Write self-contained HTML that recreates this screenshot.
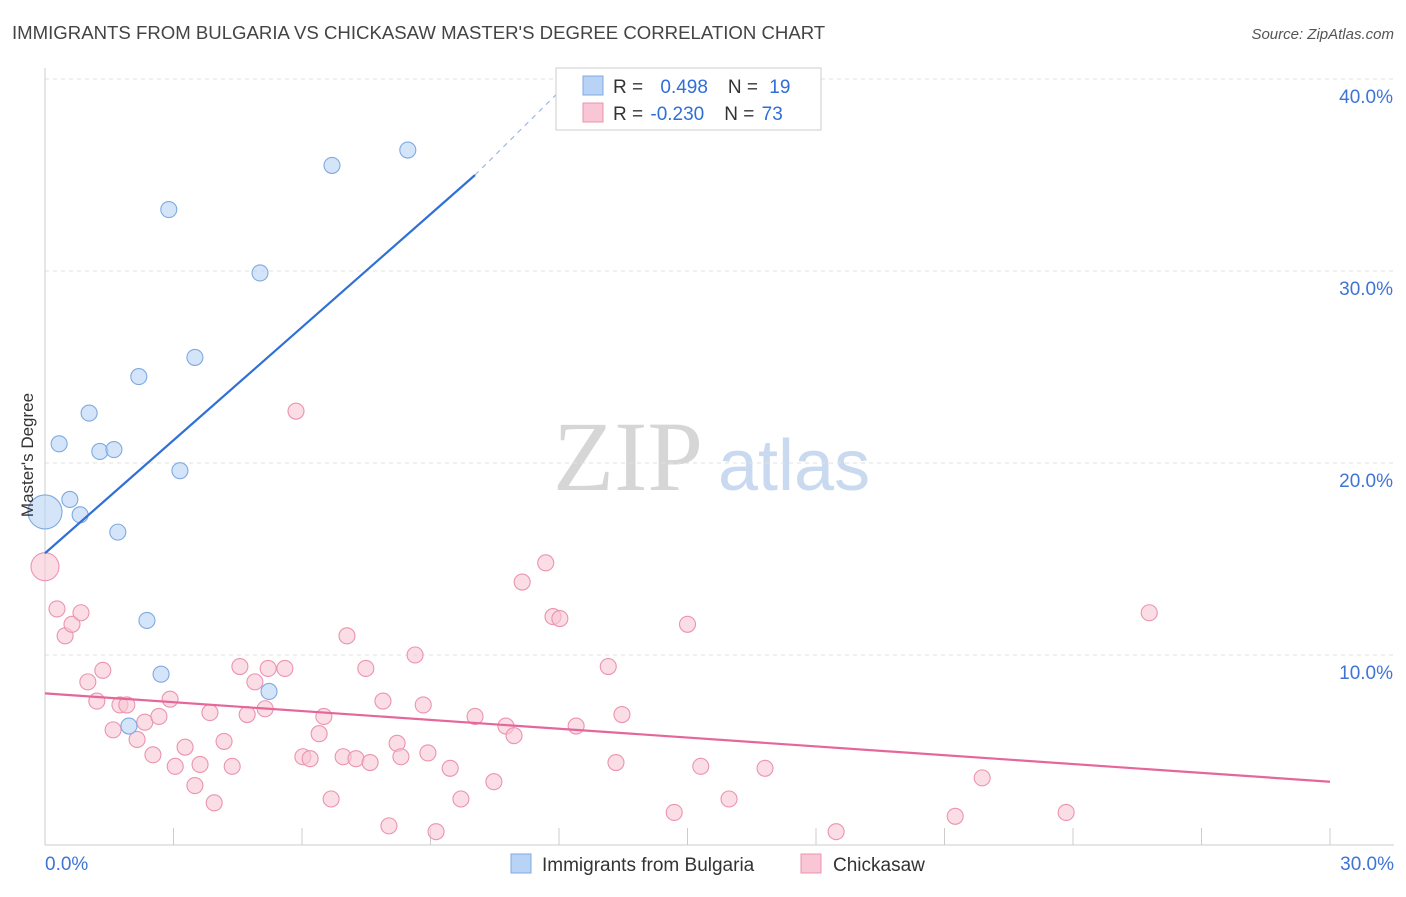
<!DOCTYPE html>
<html><head><meta charset="utf-8"><style>
body{margin:0;background:#fff;font-family:"Liberation Sans",sans-serif;}
svg text{font-family:"Liberation Sans",sans-serif;}
</style></head><body>
<svg id="chart" width="1406" height="892" xmlns="http://www.w3.org/2000/svg">
<text x="12" y="39" font-size="18.6" fill="#444">IMMIGRANTS FROM BULGARIA VS CHICKASAW MASTER'S DEGREE CORRELATION CHART</text>
<text x="1394" y="39" font-size="15" fill="#555" text-anchor="end" font-style="italic">Source: ZipAtlas.com</text>
<g>
<text x="553" y="490" font-size="100" fill="#d6d6d6" style="font-family:'Liberation Serif',serif">ZIP</text>
<text x="718" y="490" font-size="72" fill="#c9d9f0">atlas</text>
</g>
<g id="grid"></g>
<g id="axes"></g>
<g id="marks"></g>
<text transform="translate(33,455) rotate(-90)" font-size="17" fill="#333" text-anchor="middle">Master's Degree</text>
<g>
<rect x="556" y="68" width="265" height="62" fill="#fff" stroke="#ccc"/>
<rect x="583" y="76" width="20" height="19" fill="#b8d3f5" stroke="#7fa9e0"/>
<rect x="583" y="103" width="20" height="19" fill="#f9c6d5" stroke="#eb93b0"/>
<text x="613" y="93" font-size="19" fill="#333">R = <tspan fill="#2f6fd6" dx="12">0.498</tspan><tspan dx="20" fill="#333">N = </tspan><tspan fill="#2f6fd6" dx="6">19</tspan></text>
<text x="613" y="120" font-size="19" fill="#333">R = <tspan fill="#2f6fd6" dx="2">-0.230</tspan><tspan dx="20" fill="#333">N = </tspan><tspan fill="#2f6fd6" dx="2">73</tspan></text>
</g>
<g>
<rect x="511" y="854" width="20" height="19" fill="#b8d3f5" stroke="#7fa9e0"/>
<text x="542" y="871" font-size="19" fill="#333">Immigrants from Bulgaria</text>
<rect x="801" y="854" width="20" height="19" fill="#f9c6d5" stroke="#eb93b0"/>
<text x="833" y="871" font-size="19" fill="#333">Chickasaw</text>
</g>
</svg>
<script>
const blueX=[0,0.33,0.58,0.82,1.03,1.28,1.61,1.70,2.19,2.38,2.71,2.89,3.15,3.50,5.02,5.23,6.70,8.47,1.96];
const blueY=[17.45,21.0,18.1,17.3,22.6,20.6,20.7,16.4,24.5,11.8,9.0,33.2,19.6,25.5,29.9,8.1,35.5,36.3,6.3];
const pinkX=[0,0.28,0.47,0.63,0.84,1.0,1.21,1.35,1.59,1.75,1.91,2.15,2.33,2.52,2.66,2.92,3.04,3.27,3.50,3.62,3.85,3.95,4.18,4.37,4.55,4.72,4.90,5.14,5.21,5.60,5.86,6.02,6.19,6.40,6.51,6.68,6.96,7.05,7.26,7.49,7.59,7.89,8.03,8.22,8.31,8.64,8.83,8.94,9.13,9.46,9.71,10.04,10.48,10.76,10.95,11.14,11.69,11.86,12.02,12.40,13.15,13.33,13.47,14.69,15.0,15.31,15.97,16.81,18.47,21.25,21.88,23.84,25.78];
const pinkY=[14.6,12.4,11.0,11.6,12.2,8.6,7.6,9.2,6.1,7.4,7.4,5.6,6.5,4.8,6.8,7.7,4.2,5.2,3.2,4.3,7.0,2.3,5.5,4.2,9.4,6.9,8.6,7.2,9.3,9.3,22.7,4.7,4.6,5.9,6.8,2.5,4.7,11.0,4.6,9.3,4.4,7.6,1.1,5.4,4.7,10.0,7.4,4.9,0.8,4.1,2.5,6.8,3.4,6.3,5.8,13.8,14.8,12.0,11.9,6.3,9.4,4.4,6.9,1.8,11.6,4.2,2.5,4.1,0.8,1.6,3.6,1.8,12.2];
const yTicks=[10,20,30,40];
const yTickLabels=["10.0%","20.0%","30.0%","40.0%"];
const xTickVals=[0,3,6,9,12,15,18,21,24,27,30];
const blueTrend=[[0,15.3],[10.04,35.0]];
const blueDash=[[10.04,35.0],[12.3,40.0]];
const pinkTrend=[[0,8.0],[30,3.4]];

const NS="http://www.w3.org/2000/svg";
const xs=v=>45+v/30*1285, ys=v=>847-v*19.2;
function mk(tag,attrs,parent){const e=document.createElementNS(NS,tag);for(const k in attrs)e.setAttribute(k,attrs[k]);parent.appendChild(e);return e;}
const grid=document.getElementById('grid'),axes=document.getElementById('axes'),marks=document.getElementById('marks');
yTicks.forEach((t,i)=>{
 const l=mk('line',{x1:45,x2:1394,y1:ys(t),y2:ys(t),stroke:'#e2e2e2','stroke-dasharray':'4,4'},grid);
 
 
 const tx=mk('text',{x:1393,y:ys(t)+24,'font-size':19,fill:'#3f74d6','text-anchor':'end'},axes);
 tx.textContent=yTickLabels[i];
 
 
});
const ax=mk('line',{x1:45,x2:1394,y1:845,y2:845,stroke:'#ccc'},axes);


const ay=mk('line',{x1:45,x2:45,y1:68,y2:845,stroke:'#ccc'},axes);


xTickVals.forEach(t=>{
 const l=mk('line',{x1:xs(t),x2:xs(t),y1:828,y2:845,stroke:'#ccc'},axes);
 
 
});
const x0=mk('text',{x:45,y:870,'font-size':19,fill:'#3f74d6'},axes);x0.textContent='0.0%';


const x1=mk('text',{x:1394,y:870,'font-size':19,fill:'#3f74d6','text-anchor':'end'},axes);x1.textContent='30.0%';



pinkX.forEach((v,i)=>{
 const c=mk('circle',{cx:xs(v),cy:ys(pinkY[i]),r:i===0?14:8,fill:'#f9c6d5','fill-opacity':0.6,stroke:'#eb93b0','stroke-width':1.1},marks);
 
 
});
blueX.forEach((v,i)=>{
 const c=mk('circle',{cx:xs(v),cy:ys(blueY[i]),r:i===0?17:8,fill:'#b8d3f5','fill-opacity':0.6,stroke:'#7fa9e0','stroke-width':1.1},marks);
 
 
});
const bt=mk('line',{x1:xs(blueTrend[0][0]),y1:ys(blueTrend[0][1]),x2:xs(blueTrend[1][0]),y2:ys(blueTrend[1][1]),stroke:'#2f6fd6','stroke-width':2.2},marks);


const bd=mk('line',{x1:xs(blueDash[0][0]),y1:ys(blueDash[0][1]),x2:xs(blueDash[1][0]),y2:ys(blueDash[1][1]),stroke:'#9bb8e6','stroke-width':1.2,'stroke-dasharray':'5,5'},marks);


const pt=mk('line',{x1:xs(pinkTrend[0][0]),y1:ys(pinkTrend[0][1]),x2:xs(pinkTrend[1][0]),y2:ys(pinkTrend[1][1]),stroke:'#e5679a','stroke-width':2.2},marks);


</script>
</body></html>
